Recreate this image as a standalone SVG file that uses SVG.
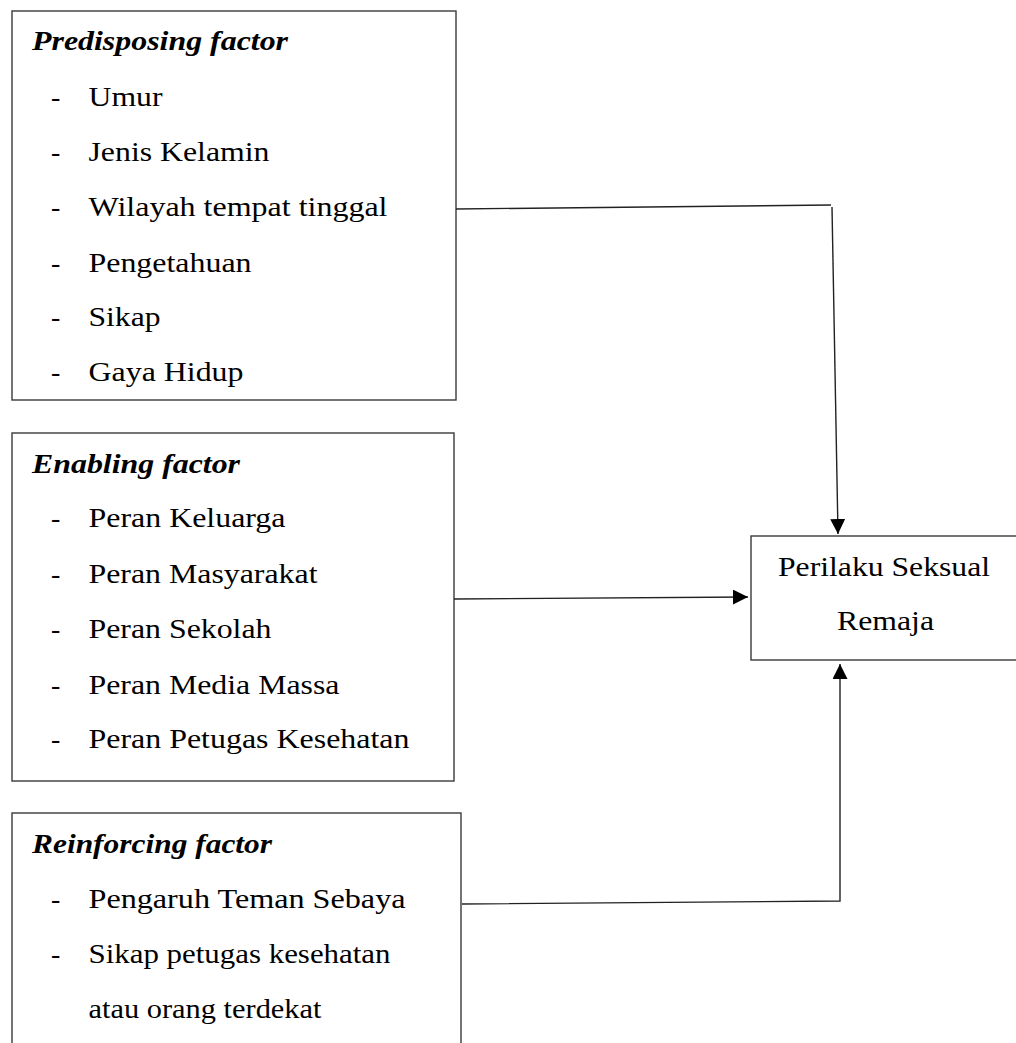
<svg xmlns="http://www.w3.org/2000/svg" width="1016" height="1043" viewBox="0 0 1016 1043">
  <style>
    .box { fill: #ffffff; stroke: #3a3a3a; stroke-width: 1.4; }
    .t { font-family: "Liberation Serif", "Times New Roman", serif; font-size: 28px; fill: #000; }
    .h { font-weight: bold; font-style: italic; }
    .c { fill: none; stroke: #222; stroke-width: 1.4; }
  </style>
  <defs>
    <marker id="arr" markerUnits="userSpaceOnUse" markerWidth="15" markerHeight="15" refX="15" refY="7.5" orient="auto">
      <path d="M0,0 L15,7.5 L0,15 Z" fill="#000"/>
    </marker>
  </defs>
  <rect width="1016" height="1043" fill="#ffffff"/>

  <g id="predisposing">
    <rect class="box" x="12" y="11" width="444" height="389"/>
    <text class="t h" x="32" y="50" textLength="256" lengthAdjust="spacingAndGlyphs">Predisposing factor</text>
    <text class="t" x="51" y="106">-</text>
    <text class="t" x="88.5" y="106" textLength="74" lengthAdjust="spacingAndGlyphs">Umur</text>
    <text class="t" x="51" y="161">-</text>
    <text class="t" x="88.5" y="161" textLength="181" lengthAdjust="spacingAndGlyphs">Jenis Kelamin</text>
    <text class="t" x="51" y="216">-</text>
    <text class="t" x="88.5" y="216" textLength="299" lengthAdjust="spacingAndGlyphs">Wilayah tempat tinggal</text>
    <text class="t" x="51" y="272">-</text>
    <text class="t" x="88.5" y="272" textLength="163" lengthAdjust="spacingAndGlyphs">Pengetahuan</text>
    <text class="t" x="51" y="326">-</text>
    <text class="t" x="88.5" y="326" textLength="72" lengthAdjust="spacingAndGlyphs">Sikap</text>
    <text class="t" x="51" y="381">-</text>
    <text class="t" x="88.5" y="381" textLength="155" lengthAdjust="spacingAndGlyphs">Gaya Hidup</text>
  </g>

  <g id="enabling">
    <rect class="box" x="12" y="433" width="442" height="348"/>
    <text class="t h" x="32" y="473" textLength="208" lengthAdjust="spacingAndGlyphs">Enabling factor</text>
    <text class="t" x="51" y="527">-</text>
    <text class="t" x="88.5" y="527" textLength="197" lengthAdjust="spacingAndGlyphs">Peran Keluarga</text>
    <text class="t" x="51" y="583">-</text>
    <text class="t" x="88.5" y="583" textLength="229" lengthAdjust="spacingAndGlyphs">Peran Masyarakat</text>
    <text class="t" x="51" y="638">-</text>
    <text class="t" x="88.5" y="638" textLength="183" lengthAdjust="spacingAndGlyphs">Peran Sekolah</text>
    <text class="t" x="51" y="694">-</text>
    <text class="t" x="88.5" y="694" textLength="251" lengthAdjust="spacingAndGlyphs">Peran Media Massa</text>
    <text class="t" x="51" y="748">-</text>
    <text class="t" x="88.5" y="748" textLength="321" lengthAdjust="spacingAndGlyphs">Peran Petugas Kesehatan</text>
  </g>

  <g id="reinforcing">
    <rect class="box" x="12" y="813" width="449" height="260"/>
    <text class="t h" x="32" y="853" textLength="240" lengthAdjust="spacingAndGlyphs">Reinforcing factor</text>
    <text class="t" x="51" y="908">-</text>
    <text class="t" x="88.5" y="908" textLength="317" lengthAdjust="spacingAndGlyphs">Pengaruh Teman Sebaya</text>
    <text class="t" x="51" y="963">-</text>
    <text class="t" x="88.5" y="963" textLength="302" lengthAdjust="spacingAndGlyphs">Sikap petugas kesehatan</text>
    <text class="t" x="88.5" y="1018" textLength="233" lengthAdjust="spacingAndGlyphs">atau orang terdekat</text>
  </g>

  <g id="perilaku">
    <rect class="box" x="751" y="536" width="290" height="124"/>
    <text class="t" x="778" y="576" textLength="212" lengthAdjust="spacingAndGlyphs">Perilaku Seksual</text>
    <text class="t" x="837" y="630" textLength="97" lengthAdjust="spacingAndGlyphs">Remaja</text>
  </g>

  <g id="connectors">
    <line class="c" x1="456" y1="209" x2="831" y2="205"/>
    <line class="c" x1="832" y1="207" x2="838" y2="534" marker-end="url(#arr)"/>
    <line class="c" x1="454" y1="599" x2="748" y2="597" marker-end="url(#arr)"/>
    <polyline class="c" points="462,904 840,901 840,664" marker-end="url(#arr)"/>
  </g>
</svg>
